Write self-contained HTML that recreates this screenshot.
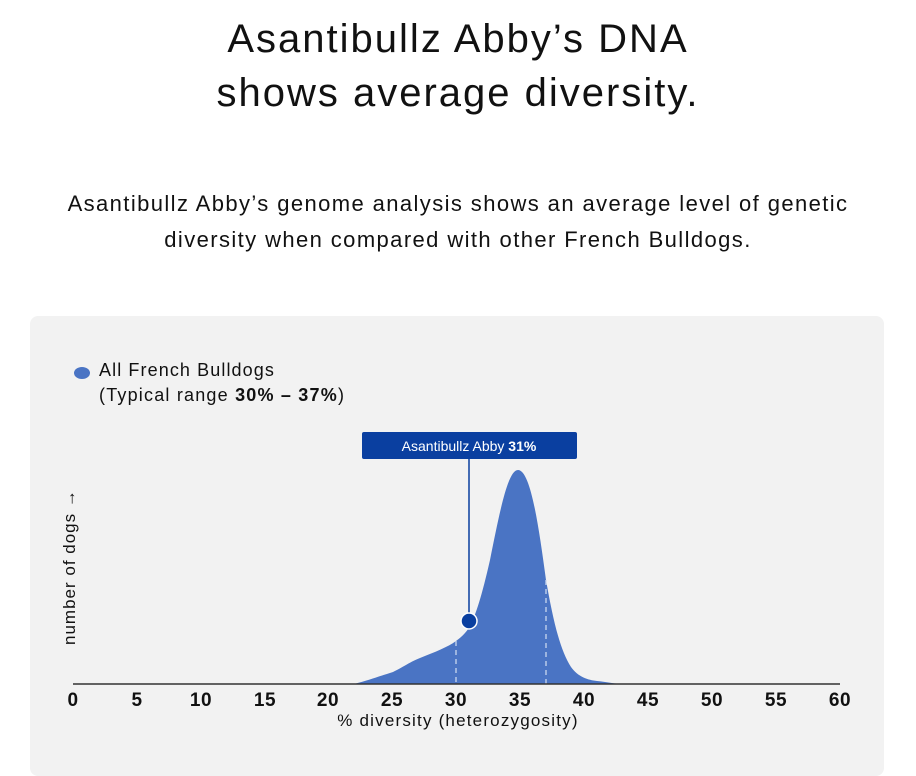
<!DOCTYPE html><html><head><style>
body{margin:0;width:916px;height:756px;background:#fff;font-family:"Liberation Sans",sans-serif;overflow:hidden;position:relative;color:#111}
.t{position:absolute;left:0;width:916px;text-align:center}
</style></head><body>
<div class="t" style="top:12px;font-size:40px;line-height:54px;letter-spacing:2px">Asantibullz Abby’s DNA<br>shows average diversity.</div>
<div class="t" style="top:186px;font-size:22px;line-height:36px;letter-spacing:1.4px">Asantibullz Abby’s genome analysis shows an average level of genetic<br>diversity when compared with other French Bulldogs.</div>
<div style="position:absolute;left:30px;top:316px;width:854px;height:460px;background:#f2f2f2;border-radius:8px"></div>
<svg style="position:absolute;left:0;top:0" width="916" height="756">
<ellipse cx="82" cy="373" rx="8" ry="6" fill="#4a74c4"/>
<text x="99" y="376" font-size="18" fill="#111" letter-spacing="1.1">All French Bulldogs</text>
<text x="99" y="401" font-size="18" fill="#111" letter-spacing="1.2">(Typical range <tspan font-weight="bold">30% – 37%</tspan>)</text>
<path d="M354,684 C370,680 380,676 393,672 C405,666 410,662 420,658 C435,652 448,647 456,641 C463,636 466,632 469,628 C476,615 482,595 490,560 C500,510 508,470 518,470 C530,470 538,520 546,580 C553,620 560,650 571,667 C578,677 588,680 597,681 C607,682 615,684 625,684 Z" fill="#4a74c4"/>
<line x1="456" y1="641" x2="456" y2="684" stroke="#c9d6ee" stroke-width="1.3" stroke-dasharray="5,4"/>
<line x1="546" y1="580" x2="546" y2="684" stroke="#c9d6ee" stroke-width="1.3" stroke-dasharray="5,4"/>
<line x1="73" y1="684" x2="840" y2="684" stroke="#333" stroke-width="1.5"/>
<line x1="469" y1="458" x2="469" y2="621" stroke="#0a3fa0" stroke-width="1.5"/>
<circle cx="469" cy="621" r="8" fill="#0a3fa0" stroke="#fff" stroke-width="1.5"/>
<rect x="362" y="432" width="215" height="27" rx="2" fill="#0a3fa0"/>
<text x="469" y="451" font-size="14" fill="#fff" text-anchor="middle">Asantibullz Abby <tspan font-weight="bold">31%</tspan></text>
<g font-size="19" fill="#111" text-anchor="middle" font-weight="bold" letter-spacing="0.5">
<text x="73" y="706">0</text><text x="137" y="706">5</text><text x="201" y="706">10</text><text x="265" y="706">15</text><text x="328" y="706">20</text><text x="392" y="706">25</text><text x="456" y="706">30</text><text x="520" y="706">35</text><text x="584" y="706">40</text><text x="648" y="706">45</text><text x="712" y="706">50</text><text x="776" y="706">55</text><text x="840" y="706">60</text>
</g>
<text x="458" y="726" font-size="17" fill="#111" text-anchor="middle" letter-spacing="1.2">% diversity (heterozygosity)</text>
<text transform="translate(75,645) rotate(-90)" font-size="17" fill="#111" letter-spacing="1">number of dogs →</text>
</svg>
</body></html>
